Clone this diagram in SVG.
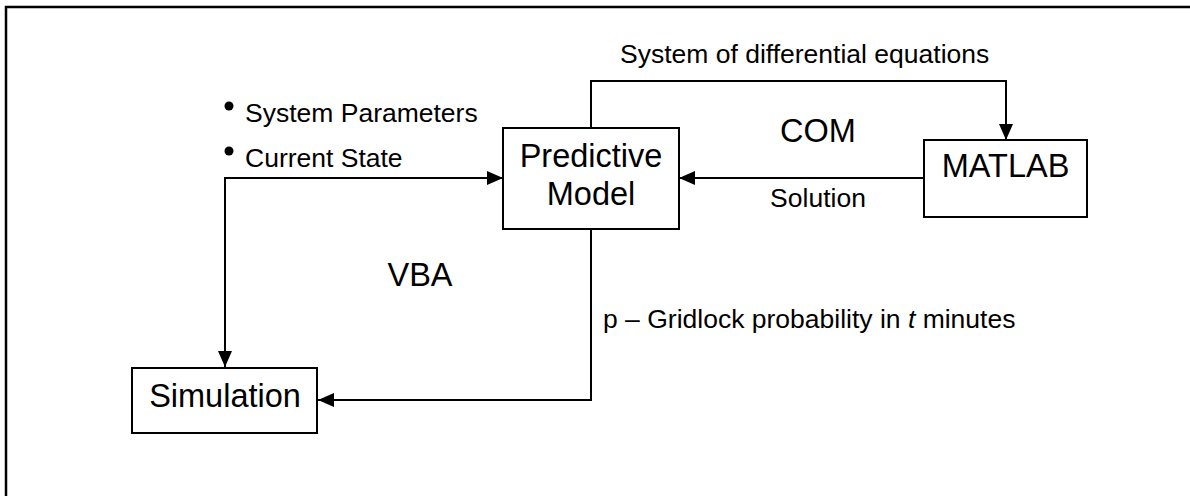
<svg xmlns="http://www.w3.org/2000/svg" width="1190" height="496" viewBox="0 0 1190 496">
<style>
.box{fill:#fff;stroke:#000;stroke-width:2}
.big{font-family:"Liberation Sans",Arial,sans-serif;font-size:32.5px;fill:#000}
.sm{font-family:"Liberation Sans",Arial,sans-serif;font-size:26.5px;fill:#000}
.ln{fill:none;stroke:#000;stroke-width:2}
</style>
<defs>
<marker id="ah" markerUnits="userSpaceOnUse" markerWidth="16" markerHeight="14" refX="16" refY="7" orient="auto">
<path d="M0,0 L16,7 L0,14 Z" fill="#000"/>
</marker>
</defs>
<rect x="6" y="7" width="1200" height="500" fill="#fff" stroke="#000" stroke-width="2.5"/>
<g id="connectors">
<polyline class="ln" points="591,128 591,81 1006,81 1006,140" marker-end="url(#ah)"/>
<line class="ln" x1="924" y1="178" x2="679" y2="178" marker-end="url(#ah)"/>
<line class="ln" x1="224" y1="178" x2="503" y2="178" marker-end="url(#ah)"/>
<line class="ln" x1="225" y1="178" x2="225" y2="367" marker-end="url(#ah)"/>
<polyline class="ln" points="591,229 591,400 318,400" marker-end="url(#ah)"/>
</g>
<g id="predictive">
<rect class="box" x="503" y="128" width="176" height="101"/>
<text class="big" x="591" y="167" text-anchor="middle">Predictive</text>
<text class="big" x="591" y="205" text-anchor="middle">Model</text>
</g>
<g id="matlab">
<rect class="box" x="924" y="140" width="163" height="77"/>
<text class="big" x="1005.5" y="177" text-anchor="middle">MATLAB</text>
</g>
<g id="simulation">
<rect class="box" x="132" y="368" width="185" height="65"/>
<text class="big" x="225" y="407" text-anchor="middle">Simulation</text>
</g>
<g id="labels">
<text class="sm" x="620" y="63">System of differential equations</text>
<text class="big" x="818" y="142" text-anchor="middle">COM</text>
<text class="sm" x="818" y="207" text-anchor="middle">Solution</text>
<circle cx="229" cy="106" r="4.5"/>
<text class="sm" x="245" y="122">System Parameters</text>
<circle cx="229" cy="151" r="4.5"/>
<text class="sm" x="245" y="167">Current State</text>
<text class="big" x="420" y="286" text-anchor="middle">VBA</text>
<text class="sm" x="603" y="328">p – Gridlock probability in <tspan font-style="italic">t</tspan> minutes</text>
</g>
</svg>
